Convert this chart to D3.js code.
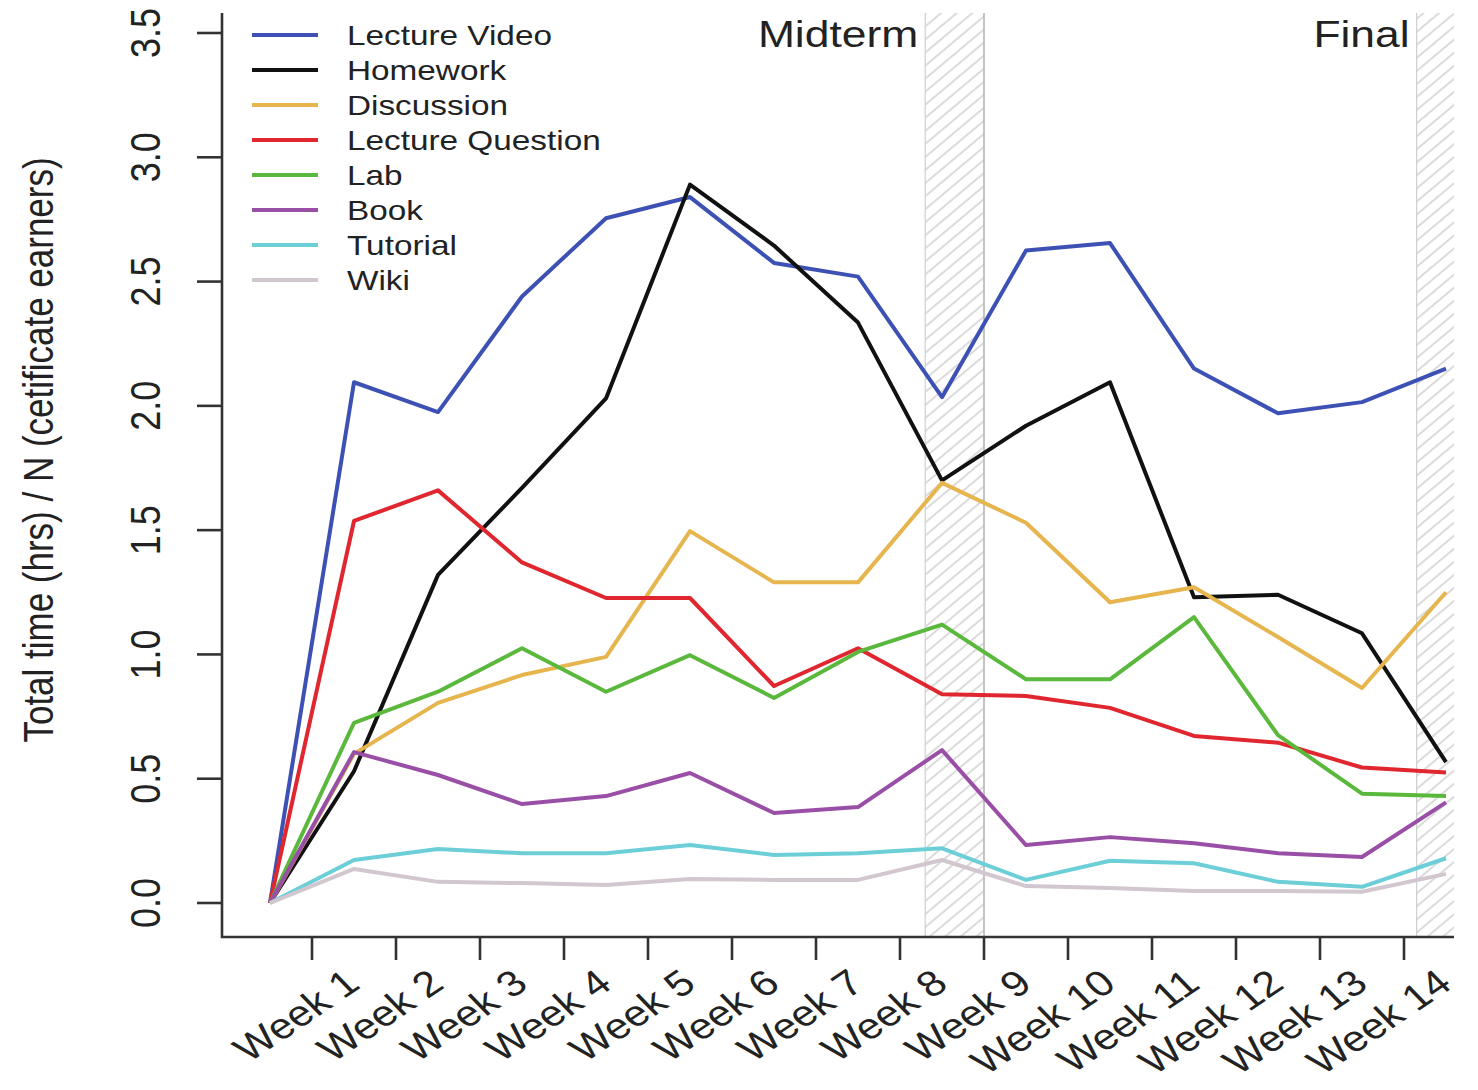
<!DOCTYPE html>
<html>
<head>
<meta charset="utf-8">
<script src="https://cdn.jsdelivr.net/npm/d3@7"></script>
<style>
  body { margin: 0; background: #fff; }
  text { font-family: "Liberation Sans", Arial, sans-serif; fill: #222; }
</style>
</head>
<body>
<div id="chart"></div>
<script>
// DATOS.
const weeks = ["Week 1", "Week 2", "Week 3", "Week 4", "Week 5", "Week 6", "Week 7",
               "Week 8", "Week 9", "Week 10", "Week 11", "Week 12", "Week 13", "Week 14"];
const yTicks = [0, 0.5, 1, 1.5, 2, 2.5, 3, 3.5];
const seriesNames = ["Lecture Video", "Homework", "Discussion", "Lecture Question",
                     "Lab", "Book", "Tutorial", "Wiki"];
const seriesColors = ["#3d51b4", "#111111", "#e6b54d", "#e0262e",
                      "#5ab83c", "#9a4fa6", "#6ccfd8", "#d2c6cf"];
// un valor al inicio (0) y uno por semana
const lectureVideo    = [0, 2.095, 1.975, 2.44, 2.755, 2.84, 2.575, 2.52, 2.035, 2.625, 2.655, 2.15, 1.97, 2.015, 2.15];
const homework        = [0, 0.53, 1.32, 1.67, 2.03, 2.89, 2.645, 2.335, 1.70, 1.92, 2.095, 1.23, 1.24, 1.085, 0.567];
const discussion      = [0, 0.60, 0.805, 0.917, 0.99, 1.496, 1.29, 1.29, 1.69, 1.53, 1.21, 1.27, 1.07, 0.865, 1.25];
const lectureQuestion = [0, 1.537, 1.66, 1.37, 1.227, 1.227, 0.873, 1.025, 0.84, 0.833, 0.785, 0.672, 0.645, 0.545, 0.525];
const lab             = [0, 0.725, 0.85, 1.025, 0.85, 0.997, 0.825, 1.01, 1.12, 0.90, 0.90, 1.15, 0.675, 0.44, 0.43];
const book            = [0, 0.607, 0.515, 0.398, 0.43, 0.523, 0.362, 0.386, 0.615, 0.233, 0.265, 0.24, 0.20, 0.185, 0.405];
const tutorial        = [0, 0.173, 0.217, 0.20, 0.20, 0.233, 0.193, 0.20, 0.22, 0.093, 0.17, 0.16, 0.085, 0.065, 0.18];
const wiki            = [0, 0.137, 0.085, 0.08, 0.072, 0.097, 0.093, 0.093, 0.173, 0.068, 0.06, 0.048, 0.048, 0.045, 0.117];
const seriesValues = [lectureVideo, homework, discussion, lectureQuestion, lab, book, tutorial, wiki];
// periodos de examen (en unidades del eje x)
const exams = [{label: "Midterm", from: 7.8, to: 8.5}, {label: "Final", from: 13.65, to: 14.1}];

// MAQUETADO.
const width = 1478, height = 1090;
const sx = 1.2; // el original esta estirado en horizontal
const plotLeft = 222, plotRight = 1454, plotTop = 13, plotBottom = 937;

const x = d3.scaleLinear().domain([0, 14]).range([270, 1446]);
const y = d3.scaleLinear().domain([0, 3.5]).range([903, 33]);

const svg = d3.select("#chart").append("svg")
  .attr("width", width).attr("height", height);

const defs = svg.append("defs");
defs.append("pattern")
  .attr("id", "hatch")
  .attr("patternUnits", "userSpaceOnUse")
  .attr("width", 10).attr("height", 10)
  .attr("patternTransform", "rotate(-40)")
  .append("line")
  .attr("x1", 0).attr("x2", 10).attr("y1", 5).attr("y2", 5)
  .attr("stroke", "#c8c8c8").attr("stroke-width", 1.3);

// zonas de examen
exams.forEach(function(e){
  svg.append("rect")
    .attr("x", x(e.from)).attr("y", plotTop)
    .attr("width", Math.min(x(e.to), plotRight) - x(e.from))
    .attr("height", plotBottom - plotTop)
    .attr("fill", "url(#hatch)");
  svg.append("line")
    .attr("x1", x(e.from)).attr("x2", x(e.from))
    .attr("y1", plotTop).attr("y2", plotBottom)
    .attr("stroke", "#cfcfcf").attr("stroke-width", 1.2);
  svg.append("text")
    .attr("transform", "translate(" + (x(e.from) - 7) + ",47) scale(" + sx + ",1)")
    .attr("text-anchor", "end")
    .attr("font-size", 37)
    .text(e.label);
});
// linea de la semana 9
svg.append("line")
  .attr("x1", x(8.5)).attr("x2", x(8.5))
  .attr("y1", plotTop).attr("y2", plotBottom)
  .attr("stroke", "#bdbdbd").attr("stroke-width", 1.8);

// CONTENIDO.
const line = d3.line()
  .x(function(d, i){ return x(i); })
  .y(function(d){ return y(d); });

svg.selectAll(".serie")
  .data(seriesValues).enter()
  .append("path")
  .attr("class", "serie")
  .attr("d", line)
  .attr("fill", "none")
  .attr("stroke", function(d, i){ return seriesColors[i]; })
  .attr("stroke-width", 4)
  .attr("stroke-linejoin", "round");

// EJES.
const axisColor = "#333";
svg.append("path")
  .attr("d", "M" + plotLeft + "," + plotTop + "V" + plotBottom + "H" + plotRight)
  .attr("fill", "none").attr("stroke", axisColor).attr("stroke-width", 2.6);

svg.selectAll(".ytick")
  .data(yTicks).enter()
  .append("line")
  .attr("x1", plotLeft - 25).attr("x2", plotLeft)
  .attr("y1", function(d){ return y(d); })
  .attr("y2", function(d){ return y(d); })
  .attr("stroke", axisColor).attr("stroke-width", 2.6);

svg.selectAll(".ylabel")
  .data(yTicks).enter()
  .append("text")
  .attr("transform", function(d){
    return "translate(160," + y(d) + ") scale(" + sx + ",1) rotate(-90)";
  })
  .attr("text-anchor", "middle")
  .attr("font-size", 36)
  .text(function(d){ return d.toFixed(1); });

svg.append("text")
  .attr("transform", "translate(53,450) scale(" + sx + ",1) rotate(-90)")
  .attr("text-anchor", "middle")
  .attr("font-size", 35)
  .text("Total time (hrs) / N (cetificate earners)");

svg.selectAll(".xtick")
  .data(weeks).enter()
  .append("line")
  .attr("x1", function(d, i){ return x(i + 0.5); })
  .attr("x2", function(d, i){ return x(i + 0.5); })
  .attr("y1", plotBottom).attr("y2", plotBottom + 23)
  .attr("stroke", axisColor).attr("stroke-width", 2.6);

svg.selectAll(".xlabel")
  .data(weeks).enter()
  .append("text")
  .attr("transform", function(d, i){
    return "translate(" + (x(i + 0.5) + 50) + ",987) scale(" + sx + ",1) rotate(-39)";
  })
  .attr("text-anchor", "end")
  .attr("font-size", 36)
  .text(function(d){ return d; });

// LEYENDA
const legend = svg.selectAll(".leyenda")
  .data(seriesNames).enter()
  .append("g")
  .attr("transform", function(d, i){ return "translate(0," + (35 + i * 35) + ")"; });
legend.append("line")
  .attr("x1", 252).attr("x2", 318)
  .attr("stroke", function(d, i){ return seriesColors[i]; })
  .attr("stroke-width", 4);
legend.append("text")
  .attr("transform", "translate(347,10) scale(" + 1.19 + ",1)")
  .attr("font-size", 28)
  .text(function(d){ return d; });
</script>
</body>
</html>
